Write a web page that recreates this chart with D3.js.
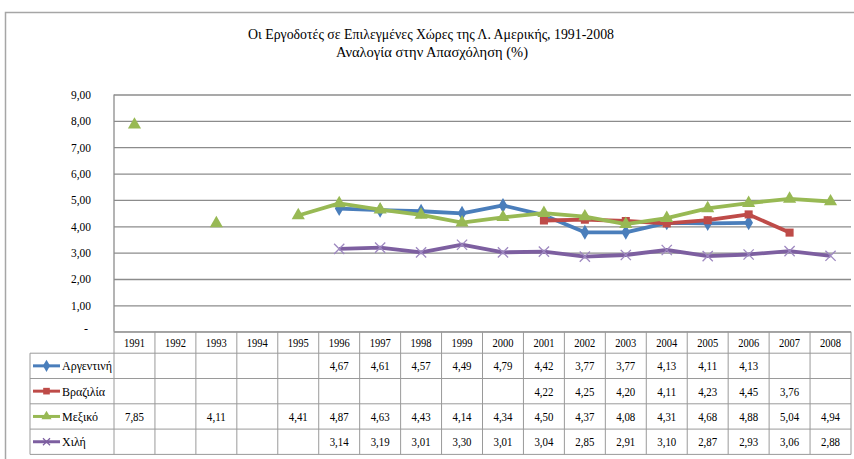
<!DOCTYPE html>
<html>
<head>
<meta charset="utf-8">
<script src="https://cdn.jsdelivr.net/npm/d3@7"></script>
<style>
  body { margin: 0; background: #fff; }
  svg text { font-family: 'Liberation Serif', 'Times New Roman', serif; }
</style>
</head>
<body>
<svg id="chart"></svg>
<script>
(function() {

  const titleLines = ['Οι Εργοδοτές σε Επιλεγμένες Χώρες της Λ. Αμερικής, 1991-2008', 'Αναλογία στην Απασχόληση (%)'];
  const years = ['1991', '1992', '1993', '1994', '1995', '1996', '1997', '1998', '1999', '2000',
    '2001', '2002', '2003', '2004', '2005', '2006', '2007', '2008'];
  const seriesNames = ['Αργεντινή', 'Βραζιλία', 'Μεξικό', 'Χιλή'];
  const argentina = [null, null, null, null, null, 4.67, 4.61, 4.57, 4.49, 4.79, 4.42, 3.77, 3.77, 4.13, 4.11, 4.13, null, null];
  const brazil = [null, null, null, null, null, null, null, null, null, null, 4.22, 4.25, 4.20, 4.11, 4.23, 4.45, 3.76, null];
  const mexico = [7.85, null, 4.11, null, 4.41, 4.87, 4.63, 4.43, 4.14, 4.34, 4.50, 4.37, 4.08, 4.31, 4.68, 4.88, 5.04, 4.94];
  const chile = [null, null, null, null, null, 3.14, 3.19, 3.01, 3.30, 3.01, 3.04, 2.85, 2.91, 3.10, 2.87, 2.93, 3.06, 2.88];
  const yTicks = [0, 1, 2, 3, 4, 5, 6, 7, 8, 9];

  const colors = ['#4a7ebb', '#be4b48', '#98b954', '#7d5fa0'];
  const symbols = [d3.symbolDiamond, d3.symbolSquare, d3.symbolTriangle, d3.symbolX];
  const seriesValues = [argentina, brazil, mexico, chile];

  const width = 854;
  const height = 459;
  const plot = { left: 114, right: 851, top: 94.5, bottom: 331.7 };
  const tableLeft = 30;
  const headerH = 21.5;
  const rowH = 25.3;

  const svg = d3.select('#chart').attr('width', width).attr('height', height);

  // outer frame
  svg.append('path')
    .attr('d', 'M5.5,' + height + 'V12.5H' + width)
    .attr('fill', 'none')
    .attr('stroke', '#a6a6a6')
    .attr('stroke-width', 1.5);

  // title
  svg.append('text')
    .attr('x', 431).attr('y', 39)
    .attr('text-anchor', 'middle')
    .attr('font-size', 14.5)
    .attr('textLength', 366).attr('lengthAdjust', 'spacingAndGlyphs')
    .text(titleLines[0]);
  svg.append('text')
    .attr('x', 432).attr('y', 57)
    .attr('text-anchor', 'middle')
    .attr('font-size', 14.5)
    .attr('textLength', 192).attr('lengthAdjust', 'spacingAndGlyphs')
    .text(titleLines[1]);

  const x = d3.scaleBand().domain(years).range([plot.left, plot.right]);
  const y = d3.scaleLinear().domain([0, 9]).range([plot.bottom, plot.top]);

  const fmt = function(v) { return d3.format('.2f')(v).replace('.', ','); };

  // gridlines
  svg.append('g')
    .attr('transform', 'translate(' + plot.left + ',0)')
    .call(d3.axisLeft(y).tickValues(yTicks).tickSize(-(plot.right - plot.left)).tickFormat(''))
    .call(function(g) {
      g.select('.domain').remove();
      g.selectAll('.tick line').attr('stroke', '#8c8c8c').attr('stroke-width', 1.3);
    });

  // y labels
  svg.append('g')
    .attr('transform', 'translate(' + (plot.left - 20) + ',0)')
    .call(d3.axisLeft(y).tickValues(yTicks).tickSize(0)
      .tickFormat(function(d) { return d === 0 ? '-' : fmt(d); }))
    .call(function(g) {
      g.select('.domain').remove();
      g.selectAll('text')
        .attr('font-size', 12)
        .attr('fill', '#000')
        .attr('textLength', function(d) { return d === 0 ? null : 20; })
        .attr('lengthAdjust', 'spacingAndGlyphs')
        .attr('dx', function(d) { return d === 0 ? -3 : 0; })
        .attr('dy', function(d) { return d === 0 ? '0.1em' : '0.32em'; });
    });

  // vertical axis line
  svg.append('line')
    .attr('x1', plot.left).attr('x2', plot.left)
    .attr('y1', plot.top).attr('y2', plot.bottom)
    .attr('stroke', '#8c8c8c').attr('stroke-width', 1.3);

  // data table
  const tableTop = plot.bottom;
  const rowsTop = tableTop + headerH;
  const tableBottom = rowsTop + rowH * seriesNames.length;
  const table = svg.append('g').attr('class', 'table');
  const gridColor = '#9a9a9a';

  // horizontal lines
  table.append('line')
    .attr('x1', plot.left).attr('x2', plot.right)
    .attr('y1', tableTop).attr('y2', tableTop)
    .attr('stroke', gridColor);
  d3.range(seriesNames.length + 1).forEach(function(i) {
    table.append('line')
      .attr('x1', tableLeft).attr('x2', plot.right)
      .attr('y1', rowsTop + i * rowH).attr('y2', rowsTop + i * rowH)
      .attr('stroke', gridColor);
  });
  // vertical lines
  table.append('line')
    .attr('x1', tableLeft).attr('x2', tableLeft)
    .attr('y1', rowsTop).attr('y2', tableBottom)
    .attr('stroke', gridColor);
  years.forEach(function(yr) {
    table.append('line')
      .attr('x1', x(yr)).attr('x2', x(yr))
      .attr('y1', tableTop).attr('y2', tableBottom)
      .attr('stroke', gridColor);
  });
  table.append('line')
    .attr('x1', plot.right).attr('x2', plot.right)
    .attr('y1', tableTop).attr('y2', tableBottom)
    .attr('stroke', gridColor);

  // year labels
  table.selectAll('.year')
    .data(years)
    .enter()
    .append('text')
    .attr('class', 'year')
    .attr('x', function(d) { return x(d) + x.bandwidth() / 2; })
    .attr('y', tableTop + headerH / 2 + 4.5)
    .attr('text-anchor', 'middle')
    .attr('font-size', 12)
    .attr('textLength', 21).attr('lengthAdjust', 'spacingAndGlyphs')
    .text(function(d) { return d; });

  // value cells and legend keys
  seriesValues.forEach(function(vals, si) {
    const cy = rowsTop + rowH * si + rowH / 2;
    table.selectAll('.val' + si)
      .data(vals.map(function(v, i) { return { v: v, yr: years[i] }; }).filter(function(d) { return d.v !== null; }))
      .enter()
      .append('text')
      .attr('x', function(d) { return x(d.yr) + x.bandwidth() / 2; })
      .attr('y', cy + 4.5)
      .attr('text-anchor', 'middle')
      .attr('font-size', 12)
      .attr('textLength', 19).attr('lengthAdjust', 'spacingAndGlyphs')
      .text(function(d) { return fmt(d.v); });

    table.append('line')
      .attr('x1', tableLeft + 3).attr('x2', tableLeft + 30)
      .attr('y1', cy).attr('y2', cy)
      .attr('stroke', colors[si]).attr('stroke-width', 3);
    table.append('path')
      .attr('transform', 'translate(' + (tableLeft + 16.5) + ',' + cy + ')')
      .attr('d', d3.symbol().type(symbols[si]).size(si === 3 ? 34 : 44)())
      .attr('fill', si === 3 ? 'none' : colors[si])
      .attr('stroke', colors[si])
      .attr('stroke-width', si === 3 ? 1.2 : 0);
    table.append('text')
      .attr('x', tableLeft + 32)
      .attr('y', cy + 4.5)
      .attr('font-size', 12)
      .text(seriesNames[si]);
  });

  // series lines and markers
  const line = d3.line()
    .defined(function(d) { return d.v !== null; })
    .x(function(d) { return x(d.yr) + x.bandwidth() / 2; })
    .y(function(d) { return y(d.v); });

  seriesValues.forEach(function(vals, si) {
    const pts = vals.map(function(v, i) { return { v: v, yr: years[i] }; });
    const g = svg.append('g').attr('class', 'series');
    g.append('path')
      .datum(pts)
      .attr('d', line)
      .attr('fill', 'none')
      .attr('stroke', colors[si])
      .attr('stroke-width', 3.8)
      .attr('stroke-linejoin', 'round');
    g.selectAll('.m')
      .data(pts.filter(function(d) { return d.v !== null; }))
      .enter()
      .append('path')
      .attr('transform', function(d) {
        return 'translate(' + (x(d.yr) + x.bandwidth() / 2) + ',' + y(d.v) + ')';
      })
      .attr('d', d3.symbol().type(symbols[si]).size(si === 3 ? 70 : (si === 2 ? 75 : 65))())
      .attr('fill', si === 3 ? 'none' : colors[si])
      .attr('stroke', si === 3 ? '#9e88c0' : colors[si])
      .attr('stroke-width', si === 3 ? 1.3 : 0);
  });

})();
</script>
</body>
</html>
